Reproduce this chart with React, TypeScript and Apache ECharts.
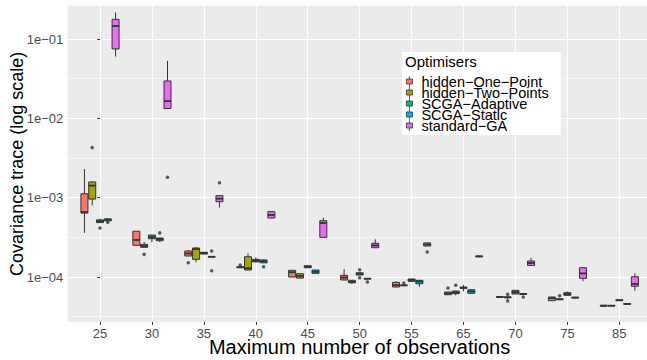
import React, { useEffect, useRef } from 'react';
import * as echarts from 'echarts';

const categories = ['25', '30', '35', '40', '45', '50', '55', '65', '70', '75', '85'];

const seriesNames = [
  'hidden\u2212One\u2212Point',
  'hidden\u2212Two\u2212Points',
  'SCGA\u2212Adaptive',
  'SCGA\u2212Static',
  'standard\u2212GA',
];

// [min, Q1, median, Q3, max] per category
const hiddenOnePoint = [
  [3.6e-4, 6.4e-4, 6.6e-4, 1.12e-3, 2.3e-3],
  [2.5e-4, 2.51e-4, 2.93e-4, 3.77e-4, 3.8e-4],
  [1.83e-4, 1.84e-4, 1.98e-4, 2.13e-4, 2.19e-4],
  [1.3e-4, 1.31e-4, 1.33e-4, 1.34e-4, 1.35e-4],
  [1.0e-4, 1.0e-4, 1.15e-4, 1.215e-4, 1.22e-4],
  [0.91e-4, 0.917e-4, 0.985e-4, 1.05e-4, 1.26e-4],
  [0.745e-4, 0.748e-4, 0.79e-4, 0.857e-4, 0.883e-4],
  [0.595e-4, 0.598e-4, 0.62e-4, 0.647e-4, 0.65e-4],
  [0.55e-4, 0.555e-4, 0.56e-4, 0.565e-4, 0.57e-4],
  [0.5e-4, 0.503e-4, 0.543e-4, 0.56e-4, 0.565e-4],
  [0.42e-4, 0.43e-4, 0.435e-4, 0.44e-4, 0.445e-4],
];
const hiddenTwoPoints = [
  [8.0e-4, 9.6e-4, 1.42e-3, 1.58e-3, 1.6e-3],
  [2.35e-4, 2.37e-4, 2.46e-4, 2.58e-4, 2.76e-4],
  [1.53e-4, 1.67e-4, 2.25e-4, 2.32e-4, 2.4e-4],
  [1.22e-4, 1.225e-4, 1.29e-4, 1.8e-4, 1.99e-4],
  [0.96e-4, 0.97e-4, 1.03e-4, 1.1e-4, 1.11e-4],
  [0.816e-4, 0.847e-4, 0.87e-4, 0.909e-4, 0.915e-4],
  [0.77e-4, 0.78e-4, 0.785e-4, 0.79e-4, 0.8e-4],
  [0.588e-4, 0.616e-4, 0.64e-4, 0.666e-4, 0.67e-4],
  [0.52e-4, 0.55e-4, 0.555e-4, 0.56e-4, 0.59e-4],
  [0.515e-4, 0.52e-4, 0.523e-4, 0.53e-4, 0.535e-4],
  [0.43e-4, 0.432e-4, 0.435e-4, 0.438e-4, 0.44e-4],
];
const scgaAdaptive = [
  [4.8e-4, 4.85e-4, 5.05e-4, 5.25e-4, 5.45e-4],
  [2.76e-4, 3.04e-4, 3.19e-4, 3.38e-4, 3.4e-4],
  [1.94e-4, 1.95e-4, 2.0e-4, 2.05e-4, 2.06e-4],
  [1.54e-4, 1.55e-4, 1.61e-4, 1.67e-4, 1.77e-4],
  [1.3e-4, 1.31e-4, 1.35e-4, 1.386e-4, 1.39e-4],
  [1.05e-4, 1.06e-4, 1.1e-4, 1.13e-4, 1.14e-4],
  [0.87e-4, 0.883e-4, 0.92e-4, 0.944e-4, 0.95e-4],
  [0.66e-4, 0.72e-4, 0.733e-4, 0.745e-4, 0.794e-4],
  [0.61e-4, 0.611e-4, 0.645e-4, 0.68e-4, 0.685e-4],
  [0.585e-4, 0.588e-4, 0.61e-4, 0.634e-4, 0.66e-4],
  [0.5e-4, 0.505e-4, 0.509e-4, 0.515e-4, 0.52e-4],
];
const scgaStatic = [
  [5.0e-4, 5.1e-4, 5.3e-4, 5.4e-4, 5.45e-4],
  [2.76e-4, 2.87e-4, 3.01e-4, 3.1e-4, 3.12e-4],
  [1.78e-4, 1.79e-4, 1.8e-4, 1.81e-4, 1.82e-4],
  [1.5e-4, 1.51e-4, 1.58e-4, 1.64e-4, 1.66e-4],
  [1.1e-4, 1.113e-4, 1.166e-4, 1.225e-4, 1.23e-4],
  [0.94e-4, 0.945e-4, 0.952e-4, 0.96e-4, 0.965e-4],
  [0.755e-4, 0.823e-4, 0.88e-4, 0.909e-4, 0.91e-4],
  [0.62e-4, 0.623e-4, 0.66e-4, 0.691e-4, 0.695e-4],
  [0.6e-4, 0.605e-4, 0.61e-4, 0.615e-4, 0.62e-4],
  [0.54e-4, 0.545e-4, 0.55e-4, 0.555e-4, 0.56e-4],
  [0.452e-4, 0.455e-4, 0.457e-4, 0.46e-4, 0.462e-4],
];
const standardGA = [
  [0.06, 0.075, 0.146, 0.177, 0.217],
  [0.0132, 0.0133, 0.0165, 0.0296, 0.053],
  [7.5e-4, 8.9e-4, 9.7e-4, 1.06e-3, 1.07e-3],
  [5.5e-4, 5.54e-4, 6.06e-4, 6.67e-4, 6.7e-4],
  [3.15e-4, 3.16e-4, 4.8e-4, 5.13e-4, 5.6e-4],
  [2.33e-4, 2.34e-4, 2.5e-4, 2.66e-4, 2.99e-4],
  [2.45e-4, 2.46e-4, 2.57e-4, 2.69e-4, 2.7e-4],
  [1.79e-4, 1.8e-4, 1.82e-4, 1.84e-4, 1.86e-4],
  [1.39e-4, 1.4e-4, 1.5e-4, 1.59e-4, 1.74e-4],
  [0.883e-4, 0.963e-4, 1.11e-4, 1.31e-4, 1.32e-4],
  [0.672e-4, 0.764e-4, 0.816e-4, 1.009e-4, 1.113e-4],
];

// outliers: [category index, value]
const outliersOnePoint = [[2, 1.51e-4], [3, 1.42e-4], [7, 0.727e-4]];
const outliersTwoPoints = [[0, 4.3e-3], [1, 1.93e-4], [6, 0.84e-4], [7, 0.786e-4], [8, 0.605e-4], [8, 0.498e-4], [9, 0.58e-4]];
const outliersAdaptive = [[0, 4.15e-4], [5, 1.236e-4], [5, 0.98e-4]];
const outliersStatic = [[0, 4.9e-4], [1, 3.6e-4], [2, 2.13e-4], [2, 1.2e-4], [3, 1.35e-4], [5, 0.865e-4], [8, 0.56e-4]];
const outliersStandard = [[1, 1.81e-3], [2, 1.54e-3], [6, 2.07e-4]];

const yTickValues = [1e-4, 1e-3, 1e-2, 1e-1];

const statsList = [hiddenOnePoint, hiddenTwoPoints, scgaAdaptive, scgaStatic, standardGA];
const outlierList = [outliersOnePoint, outliersTwoPoints, outliersAdaptive, outliersStatic, outliersStandard];
const colors = ['#F8766D', '#A3A500', '#00BF7D', '#00B0F6', '#E76BF3'];
const dodge = [-0.3, -0.15, 0, 0.15, 0.3];
const BOX_W = 0.135;
const Y_MIN = 2.71e-5;
const Y_MAX = 0.263;
const FONT = '"Liberation Sans", Arial, sans-serif';
const KEY_ICON = 'path://M3,0L3,3M0,3L6,3L6,8L0,8ZM3,8L3,11';

function fmtSci(v: number): string {
  const e = Math.round(Math.log10(v));
  return '1e' + (e < 0 ? '\u2212' : '+') + String(Math.abs(e)).padStart(2, '0');
}

export default function App() {
  const ref = useRef<HTMLDivElement>(null);
  useEffect(() => {
    if (!ref.current) return;
    const chart = echarts.init(ref.current, undefined, { renderer: 'svg' });
    const series: any[] = [];
    statsList.forEach((stats, s) => {
      const color = colors[s];
      series.push({
        type: 'custom',
        name: seriesNames[s],
        xAxisIndex: 0,
        yAxisIndex: 0,
        dimensions: ['x', 'min', 'q1', 'med', 'q3', 'max'],
        encode: { x: 0, y: [1, 2, 3, 4, 5] },
        itemStyle: { color, borderColor: '#333333', borderWidth: 0.8 },
        data: stats.map((st, i) => [i + dodge[s], ...st]),
        silent: true,
        renderItem: (params: any, api: any) => {
          const x = api.value(0) as number;
          const v = [1, 2, 3, 4, 5].map((d) => api.value(d) as number);
          const pl = api.coord([x - BOX_W / 2, v[2]]);
          const pr = api.coord([x + BOX_W / 2, v[2]]);
          const cx = api.coord([x, v[2]])[0];
          const y = v.map((val) => api.coord([x, val])[1]);
          const stroke = { stroke: '#333333', lineWidth: 1 };
          return {
            type: 'group',
            children: [
              { type: 'line', shape: { x1: cx, y1: y[4], x2: cx, y2: y[3] }, style: stroke },
              { type: 'line', shape: { x1: cx, y1: y[1], x2: cx, y2: y[0] }, style: stroke },
              {
                type: 'rect',
                shape: { x: pl[0], y: y[3], width: pr[0] - pl[0], height: y[1] - y[3] },
                style: { fill: color, stroke: '#333333', lineWidth: 1 },
              },
              { type: 'line', shape: { x1: pl[0], y1: y[2], x2: pr[0], y2: y[2] }, style: { stroke: '#333333', lineWidth: 1.8 } },
            ],
          };
        },
        z: 2,
      });
    });
    outlierList.forEach((outs, s) => {
      series.push({
        type: 'scatter',
        name: 'outliers' + s,
        xAxisIndex: 0,
        yAxisIndex: 0,
        symbol: 'circle',
        symbolSize: 3.5,
        itemStyle: { color: '#333333' },
        silent: true,
        data: outs.map(([i, val]) => [i + dodge[s], val]),
        z: 3,
      });
    });

    const option: any = {
      animation: false,
      textStyle: { fontFamily: FONT },
      grid: {
        left: 67.7,
        right: 0,
        top: 5.7,
        bottom: 38,
        show: true,
        backgroundColor: '#EBEBEB',
        borderWidth: 0,
        containLabel: false,
        outerBoundsMode: 'none',
      },
      title: {
        text: 'Optimisers',
        left: 405,
        top: 54,
        padding: 0,
        textStyle: { fontSize: 15, fontWeight: 'normal', color: '#000', fontFamily: FONT, lineHeight: 15 },
      },
      legend: {
        data: seriesNames.map((n) => ({ name: n, icon: KEY_ICON })),
        orient: 'vertical',
        left: 402,
        top: 52,
        itemGap: -4,
        itemWidth: 6,
        itemHeight: 11,
        padding: [22, 12, 2, 4],
        backgroundColor: '#ffffff',
        selectedMode: false,
        itemStyle: { borderColor: '#333333', borderWidth: 0.8 },
        textStyle: { fontSize: 14.5, lineHeight: 11.6, color: '#000', fontFamily: FONT, padding: [0, 0, 0, 4] },
      },
      xAxis: [
        {
          type: 'value',
          min: -0.622,
          max: 10.533,
          nameMoveOverlap: false,
          axisLine: { show: false },
          axisTick: { customValues: categories.map((_, i) => i), length: 2.75, lineStyle: { color: '#333333', width: 1 } },
          axisLabel: {
            customValues: categories.map((_, i) => i),
            formatter: (v: number) => categories[Math.round(v)],
            color: '#4D4D4D',
            fontSize: 13,
            lineHeight: 11,
            margin: 5.5,
            fontFamily: FONT,
          },
          splitLine: { show: true, lineStyle: { color: '#ffffff', width: 1.1 } },
          name: 'Maximum number of observations',
          nameLocation: 'middle',
          nameGap: 17,
          nameTextStyle: { fontSize: 20, lineHeight: 15, color: '#000', fontFamily: FONT, padding: [0, 0, 0, 4.4] },
        },
      ],
      yAxis: [
        {
          type: 'log',
          logBase: 10,
          min: Y_MIN,
          max: Y_MAX,
          nameMoveOverlap: false,
          axisLine: { show: false },
          axisTick: { customValues: yTickValues, length: 2.75, lineStyle: { color: '#333333', width: 1 } },
          axisLabel: {
            customValues: yTickValues,
            formatter: (v: number) => fmtSci(v),
            color: '#4D4D4D',
            fontSize: 13,
            margin: 4.4,
            fontFamily: FONT,
          },
          splitLine: { show: true, lineStyle: { color: '#ffffff', width: 1.1 } },
          name: 'Covariance trace (log scale)',
          nameLocation: 'middle',
          nameGap: 42,
          nameTextStyle: { fontSize: 18, color: '#000', fontFamily: FONT },
          z: 1,
        },
        {
          type: 'value',
          min: Math.log10(Y_MIN),
          max: Math.log10(Y_MAX),
          position: 'left',
          axisLine: { show: false },
          axisTick: { show: false },
          axisLabel: { show: false },
          splitLine: { show: false },
          minorTick: { show: false, splitNumber: 2 },
          minorSplitLine: { show: true, lineStyle: { color: '#ffffff', width: 0.55 } },
          z: 0,
        },
      ],
      series,
    };
    chart.setOption(option);
    return () => chart.dispose();
  }, []);
  return (
    <div
      ref={ref}
      style={{ position: 'fixed', left: 0, top: 0, width: 647, height: 360, background: '#ffffff' }}
    />
  );
}
